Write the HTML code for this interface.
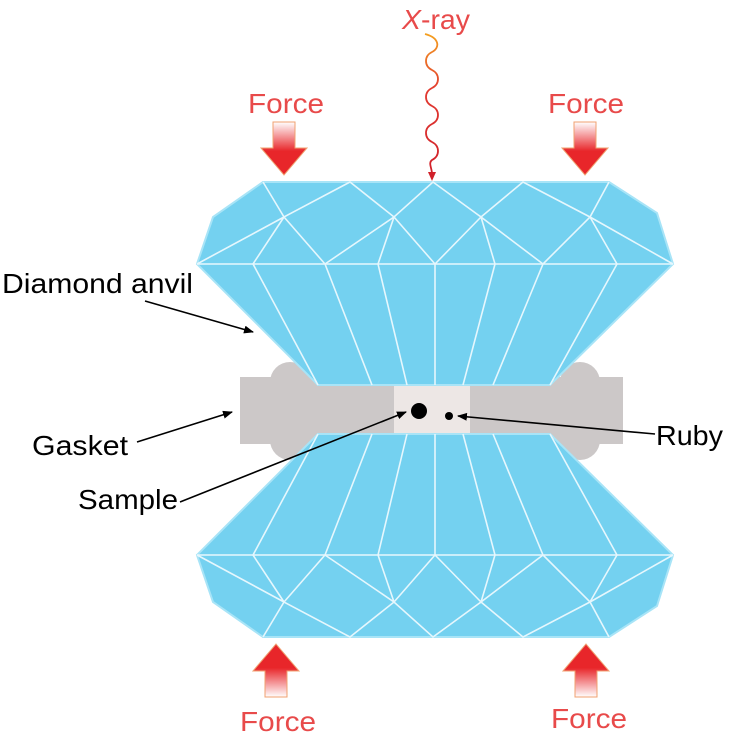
<!DOCTYPE html>
<html><head><meta charset="utf-8"><style>
html,body{margin:0;padding:0;background:#fff;}
svg{display:block;font-family:"Liberation Sans",Arial,sans-serif;}
</style></head><body>
<svg width="740" height="755" viewBox="0 0 740 755" xmlns="http://www.w3.org/2000/svg">
<defs>
<linearGradient id="gd" x1="0" y1="0" x2="0" y2="1"><stop offset="0" stop-color="#fff"/><stop offset="0.55" stop-color="#e8262a"/></linearGradient>
<linearGradient id="wv" x1="0" y1="0" x2="0" y2="1"><stop offset="0" stop-color="#f4a020"/><stop offset="0.4" stop-color="#e23a30"/><stop offset="1" stop-color="#d0202a"/></linearGradient>
<marker id="ah" markerWidth="10" markerHeight="8" refX="9" refY="4" orient="auto" markerUnits="userSpaceOnUse"><path d="M0,0 L10,4 L0,8 Z" fill="#000"/></marker>
<g id="anvil">
<polygon points="263,182 609,182 657,213 673,264 550,385 318,385 197,264 213,217" fill="#74d1f0" stroke="#a8e4f7" stroke-width="2"/>
<g stroke="#e6f7fd" stroke-width="1.6" fill="none">
<line x1="197" y1="264" x2="673" y2="264"/>
<polyline points="263,182 284,217 350,182 394,217 433,182 481,217 523,182 590,217 609,182"/>
<polyline points="197,264 284,217 253,264"/>
<line x1="284" y1="217" x2="325" y2="264"/>
<polyline points="325,264 394,217 378,264"/>
<polyline points="394,217 435,264 481,217"/>
<polyline points="495,264 481,217 543,264"/>
<polyline points="543,264 590,217 617,264"/>
<line x1="590" y1="217" x2="673" y2="264"/>
<line x1="253" y1="264" x2="318" y2="385"/>
<line x1="325" y1="264" x2="372" y2="385"/>
<line x1="378" y1="264" x2="407" y2="385"/>
<line x1="435" y1="264" x2="435" y2="385"/>
<line x1="495" y1="264" x2="463" y2="385"/>
<line x1="543" y1="264" x2="493" y2="385"/>
<line x1="617" y1="264" x2="550" y2="385"/>
</g>
</g>
<path id="fa" d="M-11,0 H11 V26 H23 L0,53 L-23,26 H-11 Z"/>
</defs>

<!-- gasket -->
<g fill="#ccc8c8">
<rect x="240" y="377" width="383" height="67"/>
<circle cx="290" cy="382" r="20"/><circle cx="580" cy="382" r="20"/>
<circle cx="290" cy="440" r="20"/><circle cx="580" cy="440" r="20"/>
</g>
<rect x="394" y="385" width="76" height="50" fill="#ede7e5"/>
<circle cx="419" cy="411" r="8" fill="#000"/>
<circle cx="449" cy="416" r="4" fill="#000"/>

<use href="#anvil"/>
<use href="#anvil" transform="translate(0,819) scale(1,-1)"/>

<!-- force arrows -->
<use href="#fa" transform="translate(284,122)" fill="url(#gd)" stroke="#f0a070" stroke-width="1"/>
<use href="#fa" transform="translate(585,122)" fill="url(#gd)" stroke="#f0a070" stroke-width="1"/>
<use href="#fa" transform="translate(276,697) scale(1,-1)" fill="url(#gd)" stroke="#f0a070" stroke-width="1"/>
<use href="#fa" transform="translate(586,697) scale(1,-1)" fill="url(#gd)" stroke="#f0a070" stroke-width="1"/>

<g fill="#e84a4a" font-size="28">
<text x="248" y="113" textLength="76" lengthAdjust="spacingAndGlyphs">Force</text>
<text x="548" y="113" textLength="76" lengthAdjust="spacingAndGlyphs">Force</text>
<text x="240" y="731" textLength="76" lengthAdjust="spacingAndGlyphs">Force</text>
<text x="551" y="728" textLength="76" lengthAdjust="spacingAndGlyphs">Force</text>
<text x="402" y="29" textLength="68" lengthAdjust="spacingAndGlyphs"><tspan font-style="italic">X</tspan>-ray</text>
</g>

<!-- x-ray wave -->
<path d="M425,34 C440,38 440,48 432,52 C424,56 424,66 432,70 C440,74 440,84 432,88 C424,92 424,102 432,106 C440,110 440,120 432,124 C424,128 424,138 432,142 C440,146 440,156 432,160 C428,163 432,168 432,174" fill="none" stroke="url(#wv)" stroke-width="1.8"/>
<path d="M428,172 L432,181 L436,172 Z" fill="#d0202a"/>

<!-- labels -->
<g fill="#000" font-size="28">
<text x="2" y="293" textLength="191" lengthAdjust="spacingAndGlyphs">Diamond anvil</text>
<text x="32" y="455" textLength="96" lengthAdjust="spacingAndGlyphs">Gasket</text>
<text x="78" y="509" textLength="100" lengthAdjust="spacingAndGlyphs">Sample</text>
<text x="656" y="445" textLength="67" lengthAdjust="spacingAndGlyphs">Ruby</text>
</g>
<g stroke="#000" stroke-width="1.6" fill="none" marker-end="url(#ah)">
<line x1="145" y1="301" x2="253" y2="332"/>
<line x1="137" y1="442" x2="232" y2="412"/>
<line x1="180" y1="502" x2="406" y2="412"/>
<line x1="655" y1="434" x2="458" y2="416"/>
</g>
</svg>
</body></html>
